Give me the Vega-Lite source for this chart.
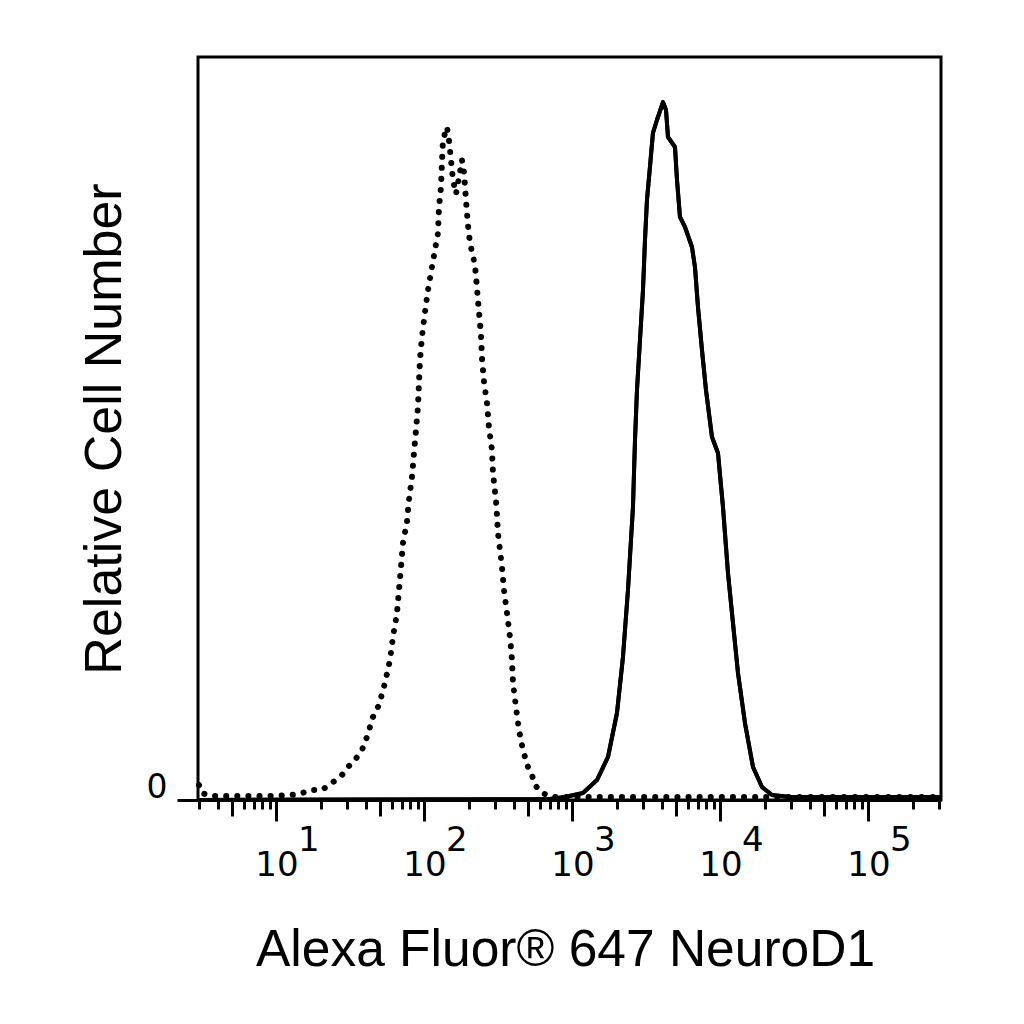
{
  "$schema": "https://vega.github.io/schema/vega-lite/v6.json",
  "width": 743,
  "height": 743,
  "autosize": "none",
  "padding": {"left": 198, "top": 57, "right": 83, "bottom": 224},
  "background": "white",
  "data": {
    "values": [
      {"s": "iso", "fl": 2.995, "c": 2.02},
      {"s": "iso", "fl": 3.138, "c": 0.94},
      {"s": "iso", "fl": 3.553, "c": 0.54},
      {"s": "iso", "fl": 4.852, "c": 0.54},
      {"s": "iso", "fl": 6.62, "c": 0.54},
      {"s": "iso", "fl": 9.04, "c": 0.54},
      {"s": "iso", "fl": 12.34, "c": 0.67},
      {"s": "iso", "fl": 14.41, "c": 0.81},
      {"s": "iso", "fl": 16.84, "c": 1.35},
      {"s": "iso", "fl": 20.3, "c": 1.35},
      {"s": "iso", "fl": 23.71, "c": 2.29},
      {"s": "iso", "fl": 27.71, "c": 3.36},
      {"s": "iso", "fl": 30.42, "c": 4.44},
      {"s": "iso", "fl": 33.92, "c": 5.38},
      {"s": "iso", "fl": 37.83, "c": 6.73},
      {"s": "iso", "fl": 40.88, "c": 8.48},
      {"s": "iso", "fl": 44.87, "c": 11.17},
      {"s": "iso", "fl": 49.27, "c": 12.79},
      {"s": "iso", "fl": 54.09, "c": 15.75},
      {"s": "iso", "fl": 58.48, "c": 18.84},
      {"s": "iso", "fl": 61.27, "c": 21.94},
      {"s": "iso", "fl": 65.21, "c": 25.17},
      {"s": "iso", "fl": 67.27, "c": 28.26},
      {"s": "iso", "fl": 69.39, "c": 31.36},
      {"s": "iso", "fl": 71.58, "c": 34.59},
      {"s": "iso", "fl": 76.17, "c": 37.42},
      {"s": "iso", "fl": 78.57, "c": 40.38},
      {"s": "iso", "fl": 82.31, "c": 43.47},
      {"s": "iso", "fl": 84.93, "c": 46.7},
      {"s": "iso", "fl": 87.62, "c": 49.8},
      {"s": "iso", "fl": 90.38, "c": 52.89},
      {"s": "iso", "fl": 91.8, "c": 56.12},
      {"s": "iso", "fl": 93.24, "c": 59.22},
      {"s": "iso", "fl": 96.18, "c": 62.32},
      {"s": "iso", "fl": 100.8, "c": 65.68},
      {"s": "iso", "fl": 105.6, "c": 68.64},
      {"s": "iso", "fl": 112.4, "c": 71.74},
      {"s": "iso", "fl": 117.7, "c": 74.02},
      {"s": "iso", "fl": 123.4, "c": 76.31},
      {"s": "iso", "fl": 125.3, "c": 79.68},
      {"s": "iso", "fl": 129.3, "c": 82.5},
      {"s": "iso", "fl": 131.3, "c": 85.87},
      {"s": "iso", "fl": 133.4, "c": 88.83},
      {"s": "iso", "fl": 141.9, "c": 90.58},
      {"s": "iso", "fl": 146.4, "c": 88.83},
      {"s": "iso", "fl": 151.1, "c": 86.14},
      {"s": "iso", "fl": 155.8, "c": 83.45},
      {"s": "iso", "fl": 163.3, "c": 81.56},
      {"s": "iso", "fl": 171.0, "c": 83.71},
      {"s": "iso", "fl": 179.2, "c": 86.14},
      {"s": "iso", "fl": 184.9, "c": 84.52},
      {"s": "iso", "fl": 190.7, "c": 80.75},
      {"s": "iso", "fl": 196.7, "c": 77.39},
      {"s": "iso", "fl": 203.0, "c": 74.97},
      {"s": "iso", "fl": 219.4, "c": 72.0},
      {"s": "iso", "fl": 226.3, "c": 68.91},
      {"s": "iso", "fl": 233.5, "c": 65.68},
      {"s": "iso", "fl": 240.9, "c": 62.58},
      {"s": "iso", "fl": 244.7, "c": 59.49},
      {"s": "iso", "fl": 252.4, "c": 56.26},
      {"s": "iso", "fl": 264.5, "c": 53.43},
      {"s": "iso", "fl": 272.8, "c": 50.07},
      {"s": "iso", "fl": 285.8, "c": 47.11},
      {"s": "iso", "fl": 290.3, "c": 44.01},
      {"s": "iso", "fl": 304.2, "c": 40.38},
      {"s": "iso", "fl": 313.8, "c": 35.94},
      {"s": "iso", "fl": 333.9, "c": 31.36},
      {"s": "iso", "fl": 344.5, "c": 28.26},
      {"s": "iso", "fl": 360.9, "c": 25.17},
      {"s": "iso", "fl": 378.3, "c": 21.94},
      {"s": "iso", "fl": 390.2, "c": 18.84},
      {"s": "iso", "fl": 396.3, "c": 15.75},
      {"s": "iso", "fl": 415.2, "c": 12.52},
      {"s": "iso", "fl": 435.0, "c": 9.42},
      {"s": "iso", "fl": 463.0, "c": 6.73},
      {"s": "iso", "fl": 500.3, "c": 4.44},
      {"s": "iso", "fl": 532.5, "c": 3.36},
      {"s": "iso", "fl": 558.0, "c": 2.02},
      {"s": "iso", "fl": 622.1, "c": 0.94},
      {"s": "iso", "fl": 738.4, "c": 0.4},
      {"s": "iso", "fl": 961.8, "c": 0.4},
      {"s": "iso", "fl": 309000, "c": 0.4},
      {"s": "neurod1", "fl": 2.95, "c": 0},
      {"s": "neurod1", "fl": 704.7, "c": 0.13},
      {"s": "neurod1", "fl": 889.8, "c": 0.4},
      {"s": "neurod1", "fl": 1177, "c": 0.94},
      {"s": "neurod1", "fl": 1464, "c": 2.69},
      {"s": "neurod1", "fl": 1738, "c": 5.79},
      {"s": "neurod1", "fl": 1998, "c": 11.71},
      {"s": "neurod1", "fl": 2194, "c": 19.25},
      {"s": "neurod1", "fl": 2371, "c": 28.26},
      {"s": "neurod1", "fl": 2563, "c": 39.43},
      {"s": "neurod1", "fl": 2645, "c": 48.45},
      {"s": "neurod1", "fl": 2728, "c": 55.18},
      {"s": "neurod1", "fl": 2858, "c": 61.91},
      {"s": "neurod1", "fl": 2995, "c": 68.64},
      {"s": "neurod1", "fl": 3090, "c": 75.37},
      {"s": "neurod1", "fl": 3186, "c": 80.75},
      {"s": "neurod1", "fl": 3338, "c": 85.19},
      {"s": "neurod1", "fl": 3497, "c": 89.77},
      {"s": "neurod1", "fl": 3722, "c": 91.52},
      {"s": "neurod1", "fl": 4088, "c": 93.94},
      {"s": "neurod1", "fl": 4284, "c": 92.87},
      {"s": "neurod1", "fl": 4419, "c": 89.23},
      {"s": "neurod1", "fl": 4927, "c": 87.89},
      {"s": "neurod1", "fl": 5083, "c": 83.45},
      {"s": "neurod1", "fl": 5325, "c": 78.47},
      {"s": "neurod1", "fl": 5757, "c": 77.12},
      {"s": "neurod1", "fl": 6417, "c": 74.43},
      {"s": "neurod1", "fl": 6723, "c": 71.74},
      {"s": "neurod1", "fl": 7047, "c": 66.35},
      {"s": "neurod1", "fl": 7499, "c": 60.57},
      {"s": "neurod1", "fl": 7980, "c": 55.18},
      {"s": "neurod1", "fl": 8762, "c": 48.86},
      {"s": "neurod1", "fl": 9618, "c": 46.7},
      {"s": "neurod1", "fl": 10396, "c": 39.43},
      {"s": "neurod1", "fl": 11237, "c": 30.55},
      {"s": "neurod1", "fl": 12147, "c": 23.82},
      {"s": "neurod1", "fl": 13129, "c": 17.09},
      {"s": "neurod1", "fl": 14639, "c": 10.36},
      {"s": "neurod1", "fl": 16586, "c": 4.44},
      {"s": "neurod1", "fl": 19070, "c": 1.75},
      {"s": "neurod1", "fl": 22284, "c": 0.67},
      {"s": "neurod1", "fl": 29484, "c": 0.4},
      {"s": "neurod1", "fl": 309000, "c": 0.4}
    ]
  },
  "layer": [
    {
      "transform": [{"filter": "datum.s == 'iso'"}],
      "mark": {"type": "line", "color": "black", "strokeWidth": 6, "strokeDash": [0.1, 11], "strokeCap": "round"},
      "encoding": {
        "x": {
          "field": "fl", "type": "quantitative",
          "scale": {"type": "log", "domain": [2.95, 309000], "nice": false},
          "axis": {
            "orient": "bottom",
            "values": [10, 100, 1000, 10000, 100000],
            "labelExpr": "'10'",
            "tickSize": 21, "tickWidth": 3, "domainWidth": 3,
            "labelFont": "DejaVu Sans", "labelFontSize": 34,
            "labelBaseline": "alphabetic", "labelPadding": 54,
            "labelOverlap": false, "labelFlush": false, "labelBound": false,
            "title": "Alexa Fluor® 647 NeuroD1",
            "titleFont": "Liberation Sans", "titleFontSize": 51.5, "titleFontWeight": "normal",
            "titleX": 367, "titleY": 165, "titleBaseline": "alphabetic", "titleAlign": "center"
          }
        },
        "y": {
          "field": "c", "type": "quantitative",
          "scale": {"domain": [0, 100], "nice": false},
          "axis": {
            "values": [0],
            "tickSize": 21, "tickWidth": 3, "domain": false,
            "labelFont": "DejaVu Sans", "labelFontSize": 33,
            "labelBaseline": "alphabetic", "labelOffset": -3, "labelPadding": 10,
            "title": "Relative Cell Number",
            "titleFont": "Liberation Sans", "titleFontSize": 52, "titleFontWeight": "normal",
            "titleAngle": 270, "titleX": -78, "titleY": 371.5,
            "titleBaseline": "alphabetic", "titleAlign": "center"
          }
        }
      }
    },
    {
      "transform": [{"filter": "datum.s == 'neurod1'"}],
      "mark": {"type": "line", "color": "black", "strokeWidth": 4, "strokeJoin": "round"},
      "encoding": {
        "x": {
          "field": "fl", "type": "quantitative",
          "axis": {
            "orient": "bottom",
            "values": [3, 4, 5, 6, 7, 8, 9, 10, 20, 30, 40, 50, 60, 70, 80, 90, 100, 200, 300, 400, 500, 600, 700, 800, 900, 1000, 2000, 3000, 4000, 5000, 6000, 7000, 8000, 9000, 10000, 20000, 30000, 40000, 50000, 60000, 70000, 80000, 90000, 100000, 200000, 300000],
            "labelExpr": "datum.value == pow(10, round(log(datum.value) / LN10)) ? format(round(log(datum.value) / LN10), 'd') : ''",
            "tickSize": 9, "tickWidth": 3, "domain": false,
            "labelFont": "DejaVu Sans", "labelFontSize": 34,
            "labelBaseline": "alphabetic", "labelAlign": "left", "labelOffset": 21, "labelPadding": 41,
            "labelOverlap": false, "labelFlush": false, "labelBound": false,
            "title": null
          }
        },
        "y": {"field": "c", "type": "quantitative", "axis": null}
      }
    },
    {
      "transform": [{"filter": "datum.s == 'neurod1'"}],
      "mark": {"type": "line", "color": "black", "strokeWidth": 4, "strokeJoin": "round"},
      "encoding": {
        "x": {
          "field": "fl", "type": "quantitative",
          "axis": {
            "orient": "bottom",
            "values": [5, 50, 500, 5000, 50000],
            "tickSize": 16, "tickWidth": 3, "domain": false, "labels": false,
            "title": null
          }
        },
        "y": {"field": "c", "type": "quantitative", "axis": null}
      }
    }
  ],
  "resolve": {"axis": {"x": "independent", "y": "independent"}},
  "config": {
    "view": {"stroke": "black", "strokeWidth": 3},
    "axis": {"grid": false, "tickColor": "black", "domainColor": "black", "labelColor": "black", "titleColor": "black"}
  }
}
